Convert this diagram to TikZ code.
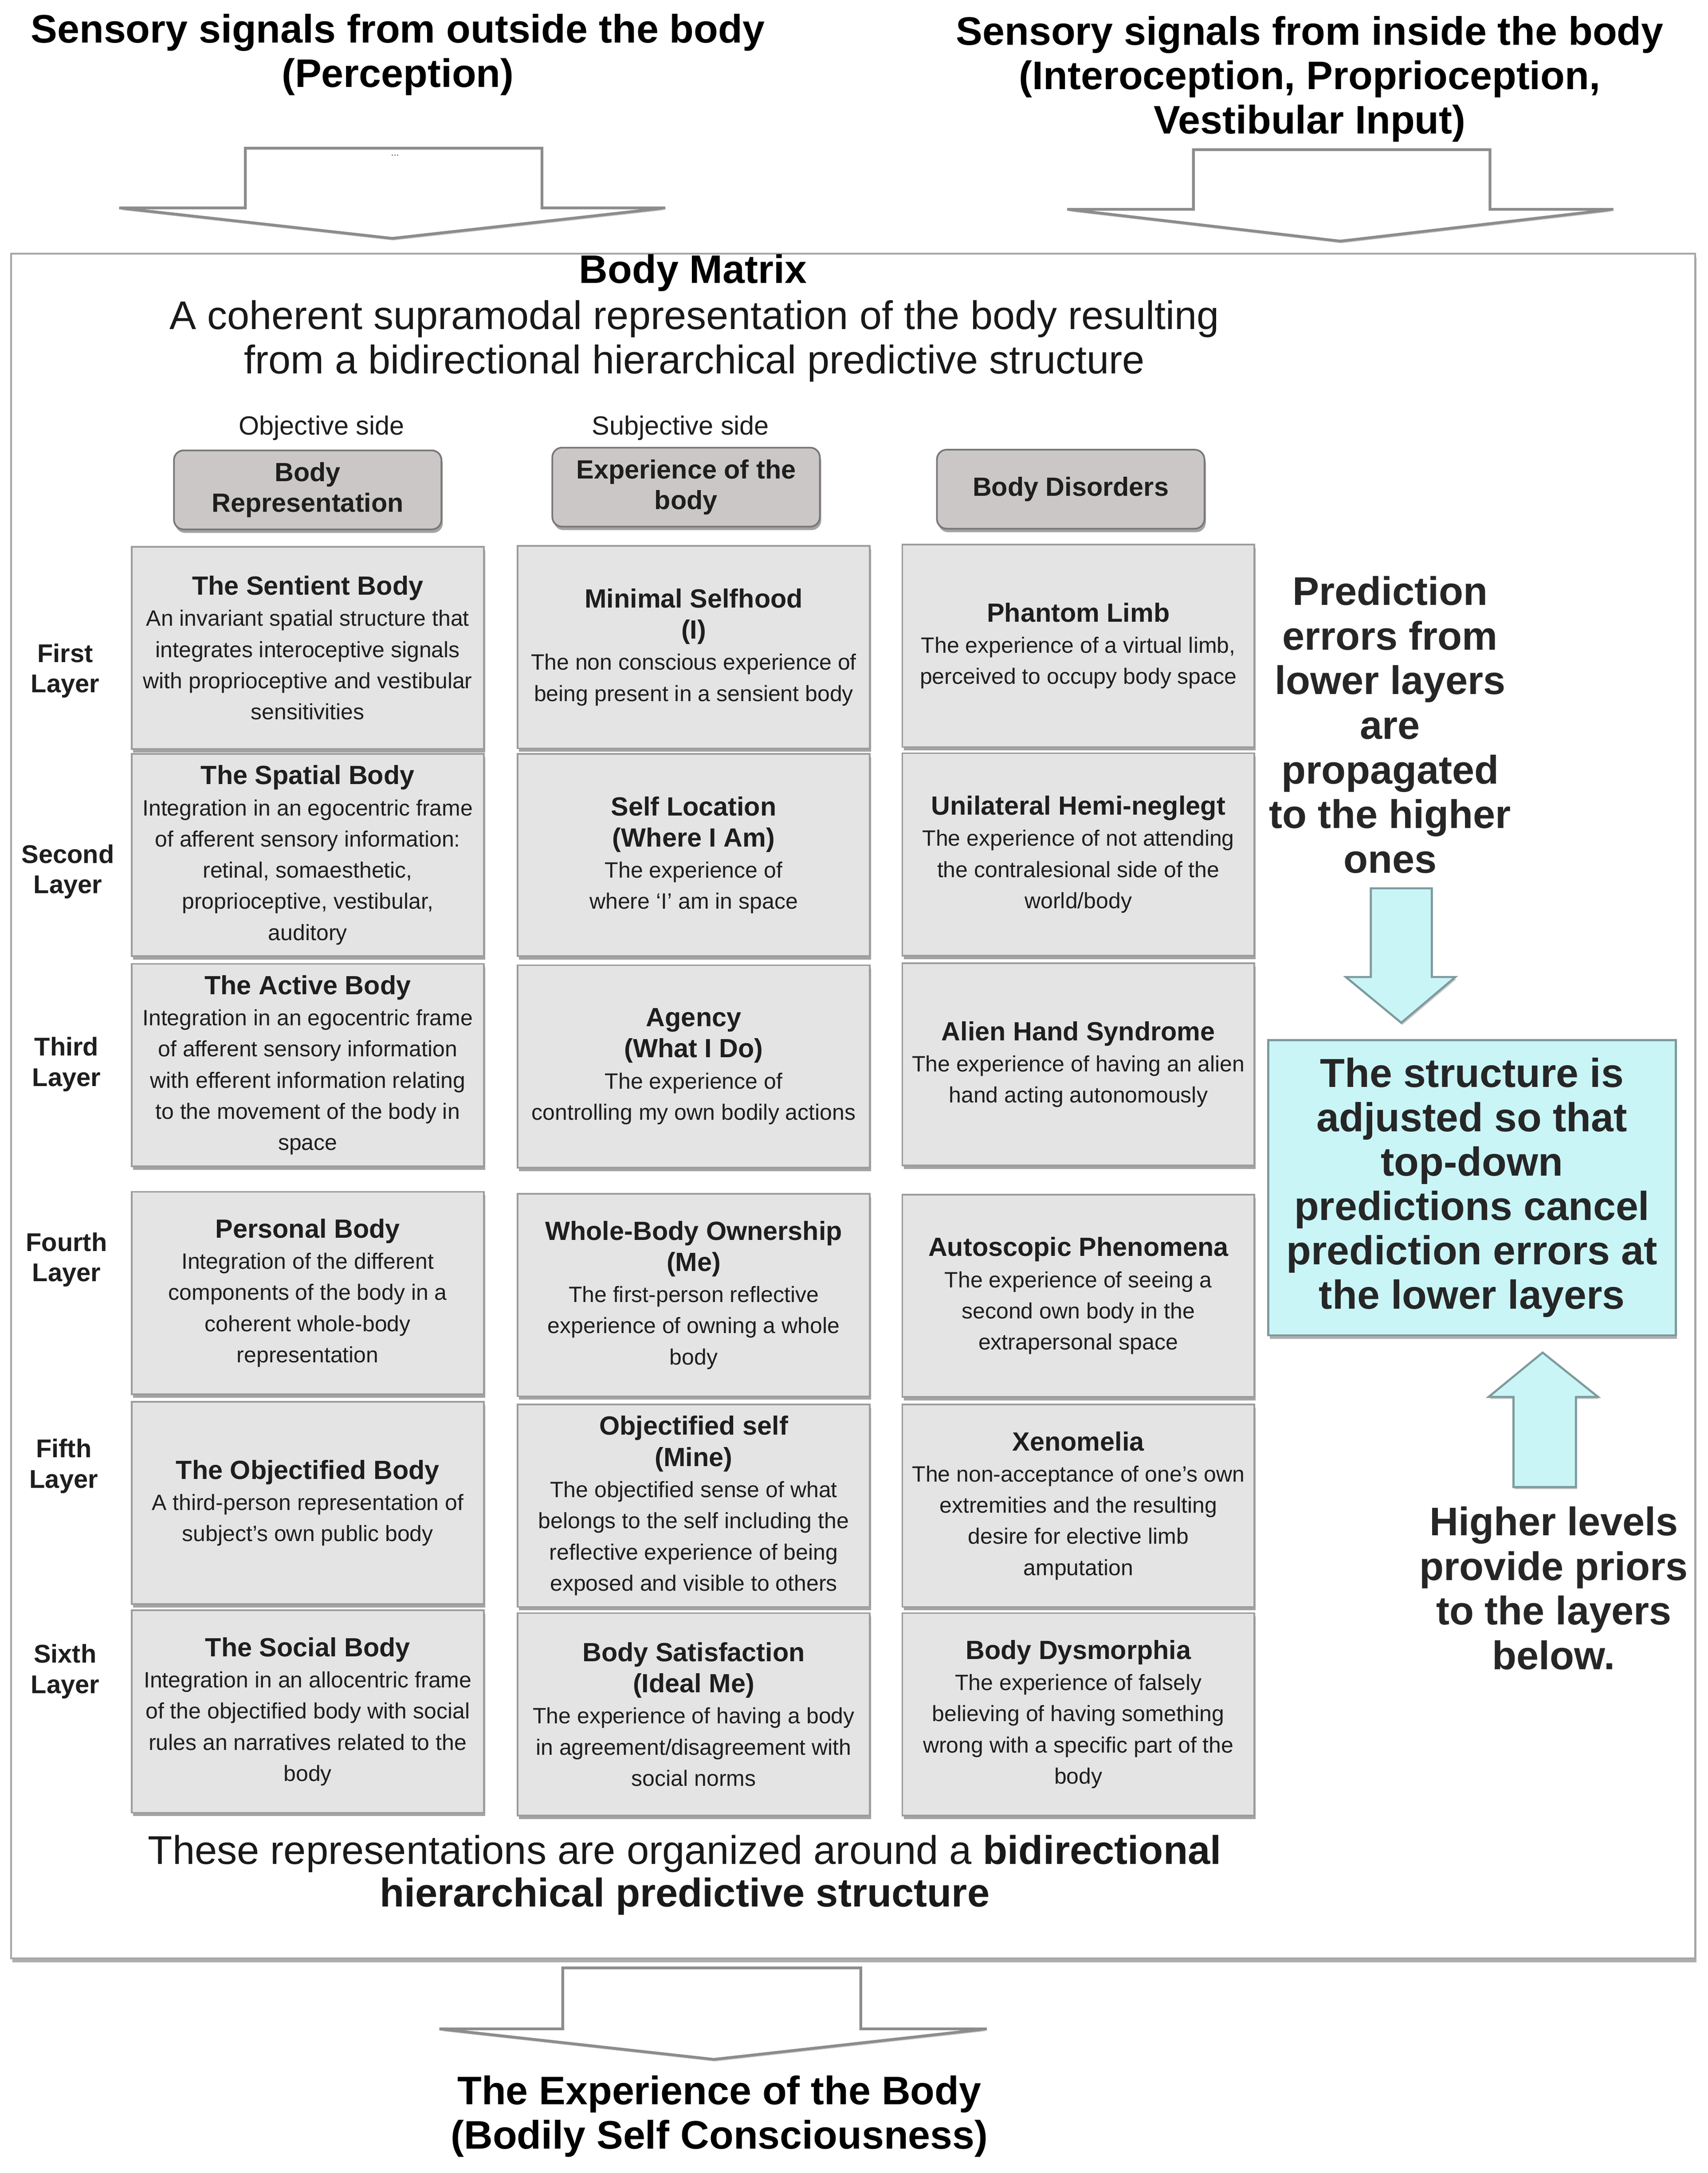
\documentclass[tikz,border=0pt]{standalone}
\usepackage{fontspec}
\setmainfont{Liberation Sans}
\usetikzlibrary{shadows}
\definecolor{boxfill}{HTML}{E5E4E4}
\definecolor{boxline}{HTML}{9C9C9C}
\definecolor{hdrfill}{HTML}{CBC7C7}
\definecolor{hdrline}{HTML}{777777}
\definecolor{cyanfill}{HTML}{C9F5F7}
\definecolor{cyanline}{HTML}{7E9A9C}
\definecolor{txt}{HTML}{1E1E1E}
\definecolor{arrline}{HTML}{8C8C8C}
\newcommand\ttl[1]{{\bfseries\fontsize{19}{22.5}\selectfont #1}}
\tikzset{
  cell/.style={draw=boxline, fill=boxfill, line width=1.2pt, minimum width=254pt,
    minimum height=146pt, inner sep=0pt, align=center, text=txt,
    font=\fontsize{16}{22.5}\selectfont,
    drop shadow={shadow xshift=1pt, shadow yshift=-2.5pt, fill=black!45, opacity=0.8}},
  hdr/.style={draw=hdrline, fill=hdrfill, line width=1.2pt, rounded corners=7pt,
    minimum width=193pt, minimum height=57pt, inner sep=0pt, align=center, text=txt,
    font=\bfseries\fontsize{19}{22}\selectfont,
    drop shadow={shadow xshift=1pt, shadow yshift=-2.5pt, fill=black!45, opacity=0.8}},
  layerlbl/.style={align=center, text=txt, font=\bfseries\fontsize{18.5}{22}\selectfont},
  sidelbl/.style={text=txt, font=\fontsize{19}{22}\selectfont},
  bigbold/.style={align=center, text=black, font=\bfseries\fontsize{28.7}{32}\selectfont},
  sidebig/.style={align=center, text=black!85, font=\bfseries\fontsize{28.8}{32.2}\selectfont},
  blockarrow/.style={draw=arrline, fill=white, line width=2pt, line join=miter,
    drop shadow={shadow xshift=0.8pt, shadow yshift=-1.5pt, fill=black!35, opacity=0.6}},
  cyanarrow/.style={draw=cyanline, fill=cyanfill, line width=1.5pt, line join=miter,
    drop shadow={shadow xshift=0.8pt, shadow yshift=-1.5pt, fill=black!35, opacity=0.6}},
}
\begin{document}
\begin{tikzpicture}[x=1pt, y=-1pt]
\useasboundingbox[fill=white] (0,0) rectangle (1232,1568);

% top texts
\node[bigbold] (outside) at (287,39.5) {Sensory signals from outside the body\\(Perception)};
\node[bigbold] (inside) at (945,57) {Sensory signals from inside the body\\(Interoception, Proprioception,\\Vestibular Input)};

% top block arrows
\draw[blockarrow] (177,107) -- (391,107) -- (391,150) -- (480,150) -- (283,172) -- (86,150) -- (177,150) -- cycle;
\node[font=\fontsize{7}{8}\selectfont, text=black!70] (dots) at (285,112) {...};
\draw[blockarrow] (861,108) -- (1075,108) -- (1075,151) -- (1164,151) -- (967,174) -- (770,151) -- (861,151) -- cycle;

% main frame
\draw[draw=black!35, line width=1.2pt, fill=white,
  drop shadow={shadow xshift=1pt, shadow yshift=-3pt, fill=black!45, opacity=0.7}]
  (8,183) rectangle (1223,1413);

% title
\node[bigbold] (bm) at (500,197) {Body Matrix};
\node[align=center, text=black!90, font=\fontsize{28.8}{32}\selectfont] (bmsub) at (501,246)
  {A coherent supramodal representation of the body resulting\\from a bidirectional hierarchical predictive structure};

% side labels
\node[sidelbl] (obj) at (232,309) {Objective side};
\node[sidelbl] (subj) at (491,309) {Subjective side};

% header boxes
\node[hdr] (h1) at (222,353.5) {Body\\Representation};
\node[hdr] (h2) at (495,351.5) {Experience of the\\body};
\node[hdr] (h3) at (772.5,353) {Body Disorders};

% layer labels
\node[layerlbl] (l1) at (47,484) {First\\Layer};
\node[layerlbl] (l2) at (49,629) {Second\\Layer};
\node[layerlbl] (l3) at (48,768) {Third\\Layer};
\node[layerlbl] (l4) at (48,909) {Fourth\\Layer};
\node[layerlbl] (l5) at (46,1058) {Fifth\\Layer};
\node[layerlbl] (l6) at (47,1206) {Sixth\\Layer};

% row 1
\node[cell] (c11) at (222,467.5) {\ttl{The Sentient Body}\\An invariant spatial structure that\\integrates interoceptive signals\\with proprioceptive and vestibular\\sensitivities};
\node[cell] (c12) at (500.5,467) {\ttl{Minimal Selfhood}\\\ttl{(I)}\\The non conscious experience of\\being present in a sensient body};
\node[cell] (c13) at (778,466) {\ttl{Phantom Limb}\\The experience of a virtual limb,\\perceived to occupy body space};
% row 2
\node[cell] (c21) at (222,617) {\ttl{The Spatial Body}\\Integration in an egocentric frame\\of afferent sensory information:\\retinal, somaesthetic,\\proprioceptive, vestibular,\\auditory};
\node[cell] (c22) at (500.5,617) {\ttl{Self Location}\\\ttl{(Where I Am)}\\The experience of\\where ‘I’ am in space};
\node[cell] (c23) at (778,616.5) {\ttl{Unilateral Hemi-neglegt}\\The experience of not attending\\the contralesional side of the\\world/body};
% row 3
\node[cell] (c31) at (222,768.5) {\ttl{The Active Body}\\Integration in an egocentric frame\\of afferent sensory information\\with efferent information relating\\to the movement of the body in\\space};
\node[cell] (c32) at (500.5,769.5) {\ttl{Agency}\\\ttl{(What I Do)}\\The experience of\\controlling my own bodily actions};
\node[cell] (c33) at (778,768) {\ttl{Alien Hand Syndrome}\\The experience of having an alien\\hand acting autonomously};
% row 4
\node[cell] (c41) at (222,933) {\ttl{Personal Body}\\Integration of the different\\components of the body in a\\coherent whole-body\\representation};
\node[cell] (c42) at (500.5,934.5) {\ttl{Whole-Body Ownership}\\\ttl{(Me)}\\The first-person reflective\\experience of owning a whole\\body};
\node[cell] (c43) at (778,935) {\ttl{Autoscopic Phenomena}\\The experience of seeing a\\second own body in the\\extrapersonal space};
% row 5
\node[cell] (c51) at (222,1084.5) {\ttl{The Objectified Body}\\A third-person representation of\\subject's own public body};
\node[cell] (c52) at (500.5,1086.5) {\ttl{Objectified self}\\\ttl{(Mine)}\\The objectified sense of what\\belongs to the self including the\\reflective experience of being\\exposed and visible to others};
\node[cell] (c53) at (778,1086.5) {\ttl{Xenomelia}\\The non-acceptance of one's own\\extremities and the resulting\\desire for elective limb\\amputation};
% row 6
\node[cell] (c61) at (222,1235) {\ttl{The Social Body}\\Integration in an allocentric frame\\of the objectified body with social\\rules an narratives related to the\\body};
\node[cell] (c62) at (500.5,1237) {\ttl{Body Satisfaction}\\\ttl{(Ideal Me)}\\The experience of having a body\\in agreement/disagreement with\\social norms};
\node[cell] (c63) at (778,1237) {\ttl{Body Dysmorphia}\\The experience of falsely\\believing of having something\\wrong with a specific part of the\\body};

% right side
\node[sidebig] (pe) at (1003,523) {Prediction\\errors from\\lower layers\\are\\propagated\\to the higher\\ones};
\draw[cyanarrow] (989,641) -- (1033,641) -- (1033,705) -- (1050,705) -- (1011,738) -- (971,705) -- (989,705) -- cycle;
\node[draw=cyanline, fill=cyanfill, line width=1.5pt, minimum width=294pt, minimum height=213pt,
  inner sep=0pt, align=center, text=black!85, font=\bfseries\fontsize{29.2}{32}\selectfont,
  drop shadow={shadow xshift=1pt, shadow yshift=-2.5pt, fill=black!45, opacity=0.7}]
  (adj) at (1062,857) {The structure is\\adjusted so that\\top-down\\predictions cancel\\prediction errors at\\the lower layers};
\draw[cyanarrow] (1092,1073) -- (1137,1073) -- (1137,1008) -- (1153,1008) -- (1113,976) -- (1074,1008) -- (1092,1008) -- cycle;
\node[sidebig] (hl) at (1121,1146) {Higher levels\\provide priors\\to the layers\\below.};

% bottom text
\node[align=center, text=black!90, font=\fontsize{28.9}{31}\selectfont] (org) at (494,1353)
  {These representations are organized around a \textbf{bidirectional}\\\textbf{hierarchical predictive structure}};

% bottom arrow
\draw[blockarrow] (406,1420) -- (621,1420) -- (621,1464) -- (712,1464) -- (515,1486) -- (317,1464) -- (406,1464) -- cycle;
\node[bigbold] (exp) at (519,1527) {The Experience of the Body\\(Bodily Self Consciousness)};
\end{tikzpicture}
\end{document}
